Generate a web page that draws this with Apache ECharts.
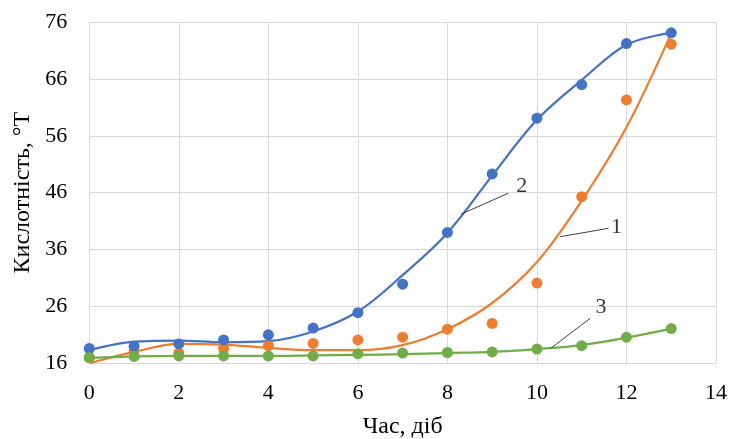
<!DOCTYPE html>
<html>
<head>
<meta charset="utf-8">
<script src="https://cdn.jsdelivr.net/npm/echarts@6/dist/echarts.min.js"></script>
<style>html,body{margin:0;padding:0;background:#fff}#c{width:730px;height:439px}</style>
</head>
<body>
<div id="c"></div>
<script>
// ---- data ----
const days = [0,1,2,3,4,5,6,7,8,9,10,11,12,13];
const series1 = [17.0, 18.2, 17.8, 18.6, 19.1, 19.5, 20.1, 20.6, 22.0, 23.0, 30.1, 45.3, 62.3, 72.1]; // orange
const series2 = [18.6, 19.0, 19.4, 20.1, 21.0, 22.2, 24.9, 29.9, 39.0, 49.3, 59.1, 65.0, 72.2, 74.1]; // blue
const series3 = [17.0, 17.2, 17.3, 17.3, 17.3, 17.3, 17.7, 17.8, 17.9, 18.0, 18.5, 19.1, 20.6, 22.1]; // green
const trendX = [0,1,2,3,4,5,6,7,8,9,10,11,12,13];
const trend1 = [16.0, 18.0, 19.4, 19.3, 18.7, 18.3, 18.3, 19.2, 22.0, 26.6, 33.8, 44.6, 57.5, 74.0];
const trend2 = [18.3, 19.8, 20.0, 19.7, 19.9, 21.6, 25.1, 31.5, 38.9, 49.0, 58.8, 65.8, 72.0, 74.1];
const trend3 = [16.9, 17.2, 17.3, 17.3, 17.3, 17.4, 17.5, 17.6, 17.8, 18.0, 18.5, 19.2, 20.5, 22.1];
const xTicks = [0,2,4,6,8,10,12,14];
const yTicks = [16,26,36,46,56,66,76];
const curveLabels = ['2','1','3'];
const leaderFrom = [[8.30,42.2],[10.52,38.25],[10.31,18.64]];
const leaderTo = [[9.36,45.9],[11.60,39.73],[11.19,23.91]];
const labelPos = [[9.66,47.16],[11.78,39.9],[11.43,25.84]];

// ---- build ----
const pairs = (xs, ys) => xs.map((x,i)=>[x, ys[i]]);
const serif = 'Liberation Serif, Times New Roman, serif';
const C1 = '#ED7D31', C2 = '#4472C4', C3 = '#70AD47';

const chart = echarts.init(document.getElementById('c'), null, {renderer:'canvas'});
const trendSeries = (data, color) => ({
  type:'line', data, smooth:0.35, symbol:'none', lineStyle:{color, width:2.25}, z:3, silent:true, animation:false
});
const pointSeries = (data, color) => ({
  type:'scatter', data, symbolSize:11, itemStyle:{color, opacity:1}, z:4, animation:false
});
chart.setOption({
  animation:false,
  grid:{left:89.3, right:14, top:22, bottom:75.7, containLabel:false, outerBoundsMode:'none'},
  xAxis:{
    type:'value', min:xTicks[0], max:xTicks[xTicks.length-1], interval:2,
    name:'Час, діб', nameLocation:'middle', nameGap:51,
    nameTextStyle:{fontFamily:serif, fontSize:24, color:'#000'},
    axisLine:{show:true, lineStyle:{color:'#d9d9d9', width:1}},
    axisTick:{show:false},
    axisLabel:{fontFamily:serif, fontSize:22, color:'#000', margin:19},
    splitLine:{show:true, lineStyle:{color:'#d9d9d9', width:1}}
  },
  yAxis:{
    type:'value', min:yTicks[0], max:yTicks[yTicks.length-1], interval:10,
    name:'Кислотність, °Т', nameLocation:'middle', nameGap:52,
    nameTextStyle:{fontFamily:serif, fontSize:24, color:'#000'},
    axisLine:{show:true, lineStyle:{color:'#d9d9d9', width:1}},
    axisTick:{show:false},
    axisLabel:{fontFamily:serif, fontSize:22, color:'#000', margin:22},
    splitLine:{show:true, lineStyle:{color:'#d9d9d9', width:1}}
  },
  series:[
    pointSeries(pairs(days, series1), C1),
    trendSeries(pairs(trendX, trend1), C1),
    pointSeries(pairs(days, series2), C2),
    trendSeries(pairs(trendX, trend2), C2),
    pointSeries(pairs(days, series3), C3),
    trendSeries(pairs(trendX, trend3), C3),
    {
      type:'lines', coordinateSystem:'cartesian2d', z:5, silent:true,
      lineStyle:{color:'#404040', width:1, opacity:1},
      data: leaderFrom.map((f,i)=>({coords:[f, leaderTo[i]]}))
    },
    {
      type:'scatter', symbol:'circle', symbolSize:1, itemStyle:{color:'rgba(0,0,0,0)'}, z:6, silent:true,
      data: labelPos.map((p,i)=>({value:[p[0], p[1]], name:curveLabels[i]})),
      label:{show:true, position:'inside', formatter:(p)=>p.name, fontFamily:serif, fontSize:22, color:'#000'}
    }
  ]
});
</script>
</body>
</html>
